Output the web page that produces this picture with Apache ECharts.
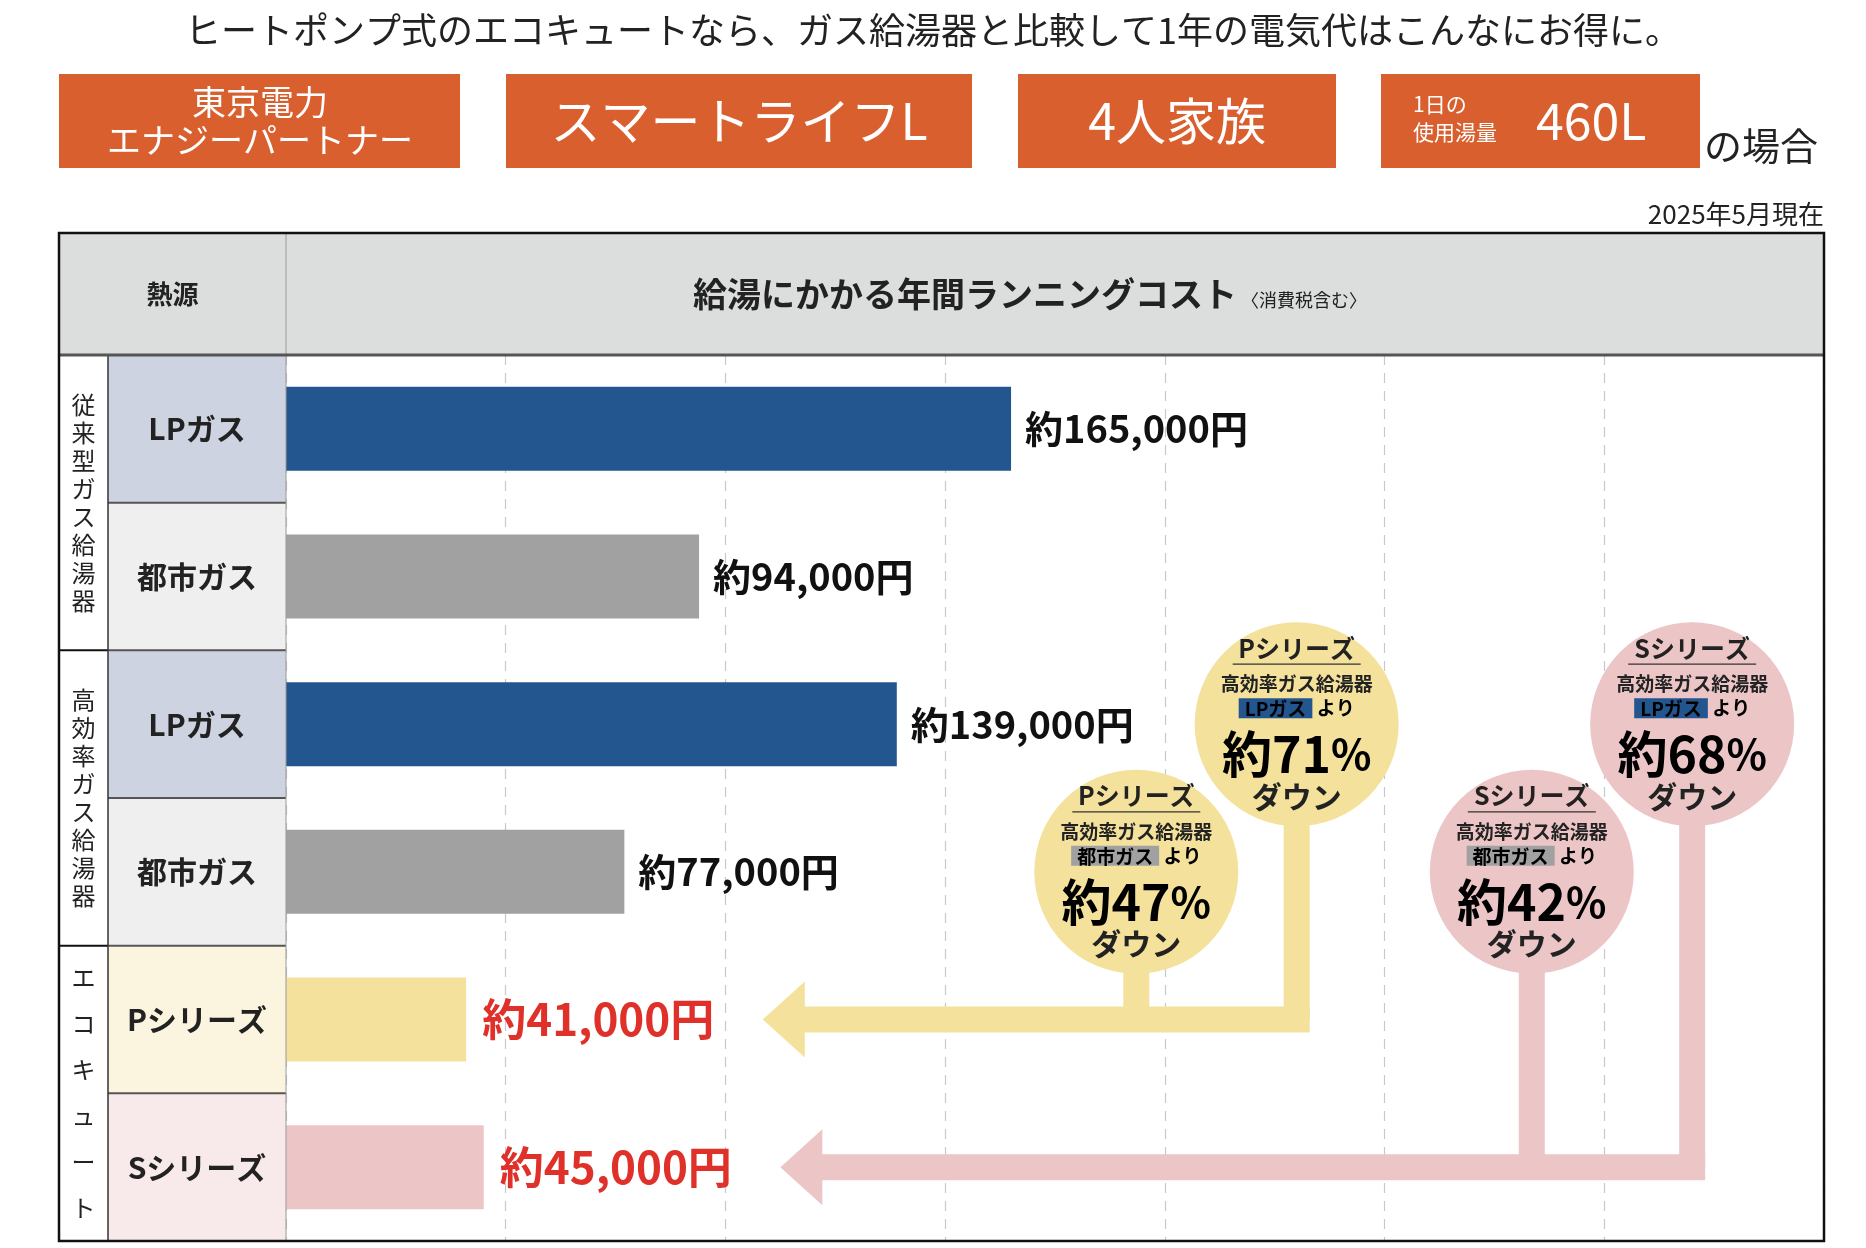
<!DOCTYPE html>
<html><head><meta charset="utf-8">
<script src="https://cdn.jsdelivr.net/npm/echarts@6/dist/echarts.min.js"></script>
<style>html,body{margin:0;background:#fff}#c{width:1866px;height:1248px}</style>
</head><body><div id="c"></div>
<script>
const categories = ['LPガス','都市ガス','LPガス','都市ガス','Pシリーズ','Sシリーズ'];
const values = [165000, 94000, 139000, 77000, 41000, 45000];
const valueLabels = ['約165,000円','約94,000円','約139,000円','約77,000円','約41,000円','約45,000円'];
const barColors = ['#23568f','#a0a1a0','#23568f','#a0a1a0','#f3e19c','#ecc6c6'];
const cellColors = ['#cdd3e0','#efefef','#cdd3e0','#efefef','#fbf5e0','#f8eaea'];
const groups = [['従来型ガス給湯器',0,1],['高効率ガス給湯器',2,3],['エコキュート',4,5]];
const xTicks = [0,50000,100000,150000,200000,250000,300000,350000];
// bubbles: [series, from, badge color, percent, xValue, rowIndex, fill]
const bubbles = [
 ['Pシリーズ','LPガス','#23568f','約71%',230000,2,'#f3e19c'],
 ['Pシリーズ','都市ガス','#a0a1a0','約47%',193500,3,'#f3e19c'],
 ['Sシリーズ','都市ガス','#a0a1a0','約42%',283500,3,'#ecc6c6'],
 ['Sシリーズ','LPガス','#23568f','約68%',320000,2,'#ecc6c6']
];
// arrows: [targetRow, tipValue, bubble indices, color]
const arrows = [[4,108500,[0,1],'#f3e19c'],[5,112500,[2,3],'#ecc6c6']];

const F = '"Noto Sans CJK JP","Noto Sans",sans-serif';
const L=59, R=1824, T=233, HB=355, B=1241;
const chart = echarts.init(document.getElementById('c'));
chart.setOption({
  animation:false,
  textStyle:{fontFamily:F},
  grid:{left:286,right:1866-R,top:HB,bottom:1248-B},
  xAxis:{type:'value',min:0,max:350000,interval:50000,
    axisLabel:{show:false},axisLine:{show:false},axisTick:{show:false},
    splitLine:{lineStyle:{type:[10,8],color:'#c8c8c8',width:1.2}}},
  yAxis:{type:'category',data:categories,inverse:true,axisLabel:{show:false},axisLine:{show:false},axisTick:{show:false}},
  series:[{type:'bar',barWidth:84,z:3,
    data:values.map((v,i)=>({value:v,itemStyle:{color:barColors[i]},
      label:{show:true,position:'right',distance:i>=4?16:14,formatter:valueLabels[i],
        color:i>=4?'#e0302a':'#111',fontSize:i>=4?44:38,fontWeight:'bold',fontFamily:F}}))}]
});

const g=[];
const rowH=(B-HB)/6;
// header
g.push({type:'rect',shape:{x:L,y:T,width:R-L,height:HB-T},style:{fill:'#dcdddd'},z:0});
g.push({type:'text',x:(L+286)/2,y:(T+HB)/2,style:{text:'熱源',font:'bold 26px '+F,fill:'#222',align:'center',verticalAlign:'middle'},z:5});
g.push({type:'text',x:1030,y:(T+HB)/2,style:{text:'{a|給湯にかかる年間ランニングコスト}{b| 〈消費税含む〉}',align:'center',verticalAlign:'middle',
  rich:{a:{font:'bold 34px '+F,fill:'#222'},b:{font:'18px '+F,fill:'#222',padding:[12,0,0,0]}}},z:5});
// cells
categories.forEach((c,i)=>{
  const y=HB+i*rowH;
  g.push({type:'rect',shape:{x:108,y:y,width:178,height:rowH},style:{fill:cellColors[i]},z:1});
  g.push({type:'text',x:197,y:y+rowH/2,style:{text:c,font:'bold 30px '+F,fill:'#222',align:'center',verticalAlign:'middle'},z:5});
  if(i>0) g.push({type:'line',shape:{x1:108,y1:y,x2:286,y2:y},style:{stroke:'#555',lineWidth:2},z:6});
});
groups.forEach(([t,a,b])=>{
  const y1=HB+a*rowH,y2=HB+(b+1)*rowH;
  g.push({type:'text',x:(L+108)/2,y:(y1+y2)/2,style:{text:t.split('').join('\n'),font:'24px '+F,lineHeight:t.length>6?28:46,fill:'#222',align:'center',verticalAlign:'middle'},z:5});
  if(a>0) g.push({type:'line',shape:{x1:L,y1:y1,x2:108,y2:y1},style:{stroke:'#111',lineWidth:2},z:6});
});
g.push({type:'line',shape:{x1:108,y1:HB,x2:108,y2:B},style:{stroke:'#333',lineWidth:1.5},z:6});
g.push({type:'line',shape:{x1:286,y1:T,x2:286,y2:B},style:{stroke:'#999',lineWidth:1},z:6});
g.push({type:'line',shape:{x1:L,y1:HB,x2:R,y2:HB},style:{stroke:'#555',lineWidth:3},z:6});
g.push({type:'rect',shape:{x:L,y:T,width:R-L,height:B-T},style:{fill:null,stroke:'#111',lineWidth:2.5},z:7});
// top texts
g.push({type:'text',x:933,y:30,style:{text:'ヒートポンプ式のエコキュートなら、ガス給湯器と比較して1年の電気代はこんなにお得に。',font:'36px '+F,fill:'#222',align:'center',verticalAlign:'middle'}});
const boxes=[[59,460],[506,972],[1018,1336],[1381,1700]];
boxes.forEach(([a,b])=>g.push({type:'rect',shape:{x:a,y:74,width:b-a,height:94},style:{fill:'#d9602e'}}));
g.push({type:'text',x:260,y:121,style:{text:'東京電力\nエナジーパートナー',font:'34px '+F,lineHeight:38,fill:'#fff',align:'center',verticalAlign:'middle'}});
g.push({type:'text',x:739,y:121,style:{text:'スマートライフL',font:'50px '+F,fill:'#fff',align:'center',verticalAlign:'middle'}});
g.push({type:'text',x:1177,y:121,style:{text:'4人家族',font:'50px '+F,fill:'#fff',align:'center',verticalAlign:'middle'}});
g.push({type:'text',x:1413,y:118,style:{text:'1日の\n使用湯量',font:'21px '+F,lineHeight:28,fill:'#fff',align:'left',verticalAlign:'middle'}});
g.push({type:'text',x:1536,y:121,style:{text:'460L',font:'50px '+F,fill:'#fff',align:'left',verticalAlign:'middle'}});
g.push({type:'text',x:1704,y:146,style:{text:'の場合',font:'38px '+F,fill:'#222',align:'left',verticalAlign:'middle'}});
g.push({type:'text',x:R,y:214,style:{text:'2025年5月現在',font:'26px '+F,fill:'#222',align:'right',verticalAlign:'middle'}});

const px=(v,row)=>chart.convertToPixel({gridIndex:0},[v,categories[row]===undefined?0:row]);
const rowY=i=>HB+(i+0.5)*rowH;
const xOf=v=>chart.convertToPixel({xAxisIndex:0},v);
const TH=26;
arrows.forEach(([row,tip,bi,col])=>{
  const y=rowY(row), xt=xOf(tip);
  const xs=bi.map(k=>xOf(bubbles[k][4]));
  const xe=Math.max(...xs)+TH/2;
  g.push({type:'polygon',shape:{points:[[xt,y],[xt+42,y-38],[xt+42,y-TH/2],[xe,y-TH/2],[xe,y+TH/2],[xt+42,y+TH/2],[xt+42,y+38]]},style:{fill:col},z:8});
  bi.forEach(k=>{const b=bubbles[k];const x=xOf(b[4]);const by=rowY(b[5]);
    g.push({type:'rect',shape:{x:x-TH/2,y:by,width:TH,height:y-by},style:{fill:col},z:8});});
});
bubbles.forEach(([s,from,bc,pct,v,row,fill])=>{
  const x=xOf(v), y=rowY(row), z=10;
  g.push({type:'circle',shape:{cx:x,cy:y,r:102},style:{fill:fill},z:z});
  g.push({type:'text',x:x,y:y-76,style:{text:s,font:'bold 25px '+F,fill:'#222',align:'center',verticalAlign:'middle'},z:z+1});
  g.push({type:'line',shape:{x1:x-64,y1:y-60,x2:x+64,y2:y-60},style:{stroke:'#333',lineWidth:1.2},z:z+1});
  g.push({type:'text',x:x,y:y-40,style:{text:'高効率ガス給湯器',font:'bold 19px '+F,fill:'#222',align:'center',verticalAlign:'middle'},z:z+1});
  g.push({type:'text',x:x,y:y-16,style:{text:'{a|'+from+'}{b| より}',align:'center',verticalAlign:'middle',
    rich:{a:{font:'bold 19px '+F,color:'#fff',backgroundColor:bc,padding:[1,6,0,6]},b:{font:'bold 19px '+F,color:'#222'}}},z:z+1});
  g.push({type:'text',x:x,y:y+30,style:{text:'{a|'+pct.replace('%','')+'}{b|%}',align:'center',verticalAlign:'middle',
    rich:{a:{font:'bold 50px '+F,color:'#111'},b:{font:'bold 42px '+F,color:'#111'}}},z:z+1});
  g.push({type:'text',x:x,y:y+72,style:{text:'ダウン',font:'bold 30px '+F,fill:'#222',align:'center',verticalAlign:'middle'},z:z+1});
});
chart.setOption({graphic:{elements:g}});
</script></body></html>
